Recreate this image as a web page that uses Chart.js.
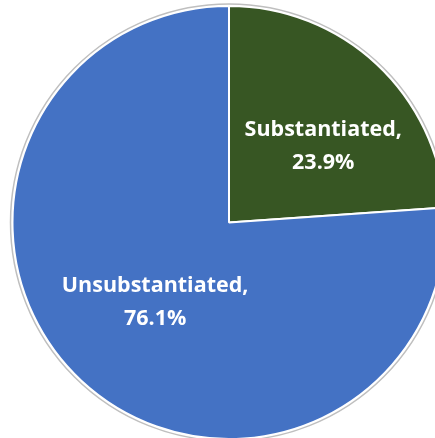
<!DOCTYPE html>
<html>
<head>
<meta charset="utf-8">
<script src="https://cdn.jsdelivr.net/npm/chart.js@4.4.0/dist/chart.umd.min.js"></script>
<style>
  html, body { margin: 0; padding: 0; background: #fff; overflow: hidden; }
  #wrap { position: absolute; left: 0; top: 0; width: 458px; height: 441px; }
</style>
</head>
<body>
<div id="wrap"><canvas id="chart"></canvas></div>
<script>
const categories = ['Substantiated', 'Unsubstantiated'];
const shares = [23.9, 76.1];
const sliceColors = ['#375623', '#4472C4'];

// draws the thin grey ring round the pie and the in-slice labels
const pieDecor = {
  id: 'pieDecor',
  afterDatasetsDraw(chart) {
    const ctx = chart.ctx;
    const arcs = chart.getDatasetMeta(0).data;
    if (!arcs.length) return;
    const { x, y, outerRadius } = arcs[0];

    ctx.save();
    ctx.beginPath();
    ctx.arc(x, y, outerRadius + 2, 0, Math.PI * 2);
    ctx.strokeStyle = '#bfbfbf';
    ctx.lineWidth = 1.5;
    ctx.stroke();

    // label placement: [radius fraction, angle shift in degrees]
    const place = [[0.56, 8], [0.5, 0]];
    ctx.fillStyle = '#ffffff';
    ctx.font = 'bold 21.5px "Open Sans", sans-serif';
    ctx.textAlign = 'center';
    ctx.textBaseline = 'middle';
    arcs.forEach((arc, i) => {
      const mid = (arc.startAngle + arc.endAngle) / 2 + place[i][1] * Math.PI / 180;
      const r = outerRadius * place[i][0];
      const lx = x + Math.cos(mid) * r;
      const ly = y + Math.sin(mid) * r;
      ctx.fillText(categories[i] + ',', lx, ly - 16);
      ctx.fillText(shares[i].toFixed(1) + '%', lx, ly + 17);
    });
    ctx.restore();
  }
};

new Chart(document.getElementById('chart'), {
  type: 'pie',
  data: {
    labels: categories,
    datasets: [{
      data: shares,
      backgroundColor: sliceColors,
      borderColor: '#ffffff',
      borderWidth: 2
    }]
  },
  options: {
    responsive: true,
    maintainAspectRatio: false,
    animation: false,
    layout: { padding: { top: 5, bottom: 1, left: 3, right: 3 } },
    plugins: {
      legend: { display: false },
      tooltip: { enabled: false }
    }
  },
  plugins: [pieDecor]
});
</script>
</body>
</html>
